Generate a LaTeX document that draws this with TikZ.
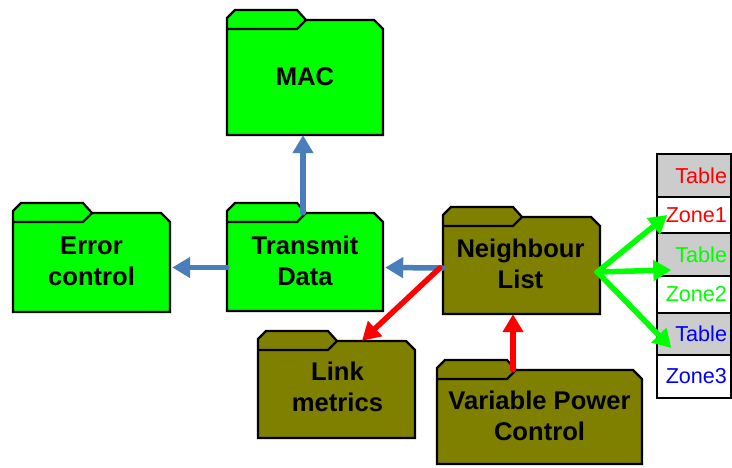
\documentclass[tikz,border=0pt]{standalone}
\usepackage{fontspec}
\setmainfont{Liberation Sans}
\usetikzlibrary{arrows.meta,fit}

\definecolor{foldergreen}{RGB}{0,255,0}
\definecolor{folderolive}{RGB}{128,128,0}
\definecolor{linkblue}{RGB}{74,126,187}
\definecolor{cellgray}{RGB}{204,204,204}
\definecolor{zonered}{RGB}{255,0,0}
\definecolor{zonegreen}{RGB}{0,255,0}
\definecolor{zoneblue}{RGB}{0,0,255}

\tikzset{
  folderline/.style={draw=black, line width=2.2pt},
  folderlabel/.style={inner sep=0pt, align=center,
    font=\fontsize{25.6}{31}\selectfont\bfseries},
  cell/.style={draw=black, line width=1.4pt, inner xsep=4pt, inner ysep=0pt,
    text width=66pt, align=right, font=\fontsize{21.6}{25}\selectfont},
  connector/.style={line width=5.5pt, line cap=round,
    -{Triangle[length=18pt,width=20pt]}},
  bluelink/.style={connector, draw=linkblue},
  redlink/.style={connector, draw=zonered},
  greenlink/.style={connector, draw=zonegreen},
}

% folder: name, left, tab top, right, bottom, fill colour
\newcommand\folderbox[6]{%
  \draw[folderline, fill=#6] (#2,#5) -- (#2,#3+8) -- (#2+8,#3) -- (#2+70,#3)
    -- (#2+79,#3+10) -- (#4-9,#3+10) -- (#4,#3+19) -- (#4,#5) -- cycle;
  \draw[folderline] (#2,#3+19) -- (#2+70,#3+19) -- (#2+79,#3+10);
  \node[fit={(#2,#3+10) (#4,#5)}, inner sep=0pt] (#1) {};
}

\begin{document}
\begin{tikzpicture}[x=1pt,y=-1pt]
\fill[white] (0,0) rectangle (732,467);
\useasboundingbox (0,0) rectangle (732,467);

% folders
\folderbox{mac}{227}{10}{383}{135}{foldergreen}
\folderbox{errctl}{13}{203}{170}{312}{foldergreen}
\folderbox{transmit}{227}{203}{383}{311}{foldergreen}
\folderbox{neighbour}{443}{207}{600}{314}{folderolive}
\folderbox{linkm}{258}{331}{415}{438}{folderolive}
\folderbox{vpc}{437}{360}{642}{464}{folderolive}

% folder labels
\node[folderlabel] (maclabel) at (305,77) {MAC};
\node[folderlabel] (errlabel) at (91.5,261) {Error\\control};
\node[folderlabel] (trlabel) at (305,261) {Transmit\\Data};
\node[folderlabel] (nblabel) at (520.5,264) {Neighbour\\List};
\node[folderlabel] (lmlabel) at (337.5,387) {Link\\metrics};
\node[folderlabel] (vpclabel) at (539.5,416) {Variable Power\\Control};

% zone table
\node[cell, fill=cellgray, text=zonered, minimum height=43pt] (t1) at (694,175.5) {Table};
\node[cell, fill=white, text=zonered, minimum height=36pt] (z1) at (694,215) {Zone1};
\node[cell, fill=cellgray, text=zonegreen, minimum height=43pt] (t2) at (694,254.5) {Table};
\node[cell, fill=white, text=zonegreen, minimum height=37pt] (z2) at (694,294.5) {Zone2};
\node[cell, fill=cellgray, text=zoneblue, minimum height=42pt] (t3) at (694,334) {Table};
\node[cell, fill=white, text=zoneblue, minimum height=43pt] (z3) at (694,376.5) {Zone3};

% connectors
\draw[bluelink] ([xshift=-2pt]transmit.north) -- ([xshift=-2pt]mac.south);
\draw[bluelink] ([yshift=-5.5pt]transmit.west) -- ([xshift=2pt,yshift=-5pt]errctl.east);
\draw[bluelink] ([yshift=-2.5pt]neighbour.west) -- ([xshift=2pt,yshift=-5.5pt]transmit.east);
\draw[redlink] ([xshift=-3pt,yshift=-2.5pt]neighbour.west) -- ([xshift=25.5pt]linkm.north);
\draw[redlink] ([xshift=-26.5pt]vpc.north) -- ([xshift=-8.5pt]neighbour.south);
\draw[greenlink] ([xshift=-3pt,yshift=-6.5pt]neighbour.east) -- ([xshift=11pt]z1.west);
\draw[greenlink] ([xshift=-3pt,yshift=-6.5pt]neighbour.east) -- ([xshift=15pt,yshift=-15.5pt]t2.west);
\draw[greenlink] ([xshift=-3pt,yshift=-6.5pt]neighbour.east) -- ([xshift=15pt,yshift=-14pt]t3.west);
\end{tikzpicture}
\end{document}
